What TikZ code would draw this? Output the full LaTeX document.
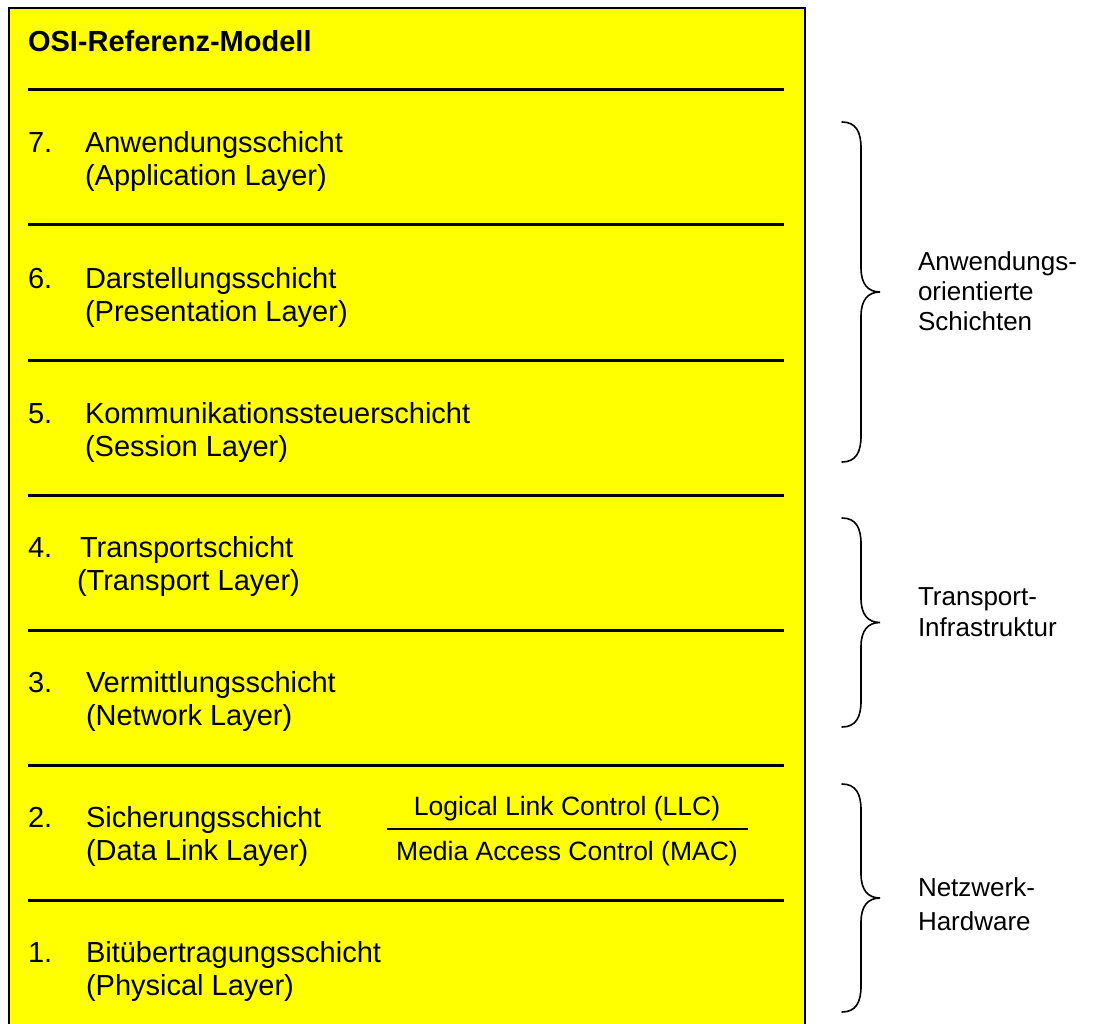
\documentclass[tikz,border=0pt]{standalone}
\usepackage{fontspec}
\setmainfont{Liberation Sans}
\definecolor{layeryellow}{RGB}{255,255,0}
\begin{document}
\begin{tikzpicture}[x=1pt,y=-1pt,
  layertext/.style={anchor=base west,inner sep=0pt,outer sep=0pt,font=\fontsize{29}{33}\selectfont},
  titletext/.style={anchor=base west,inner sep=0pt,outer sep=0pt,font=\fontsize{29}{33}\selectfont\bfseries},
  subtext/.style={anchor=base,inner sep=0pt,outer sep=0pt,font=\fontsize{26.5}{30}\selectfont},
  grouptext/.style={anchor=base west,inner sep=0pt,outer sep=0pt,font=\fontsize{26}{30}\selectfont},
  rule/.style={line width=3pt,black},
  thinrule/.style={line width=1.5pt,black},
  bracepath/.style={line width=1.6pt,black,line cap=round},
  frame/.style={fill=layeryellow,draw=black,line width=2pt}]
\useasboundingbox (0,0) rectangle (1099,1024);

% yellow stack frame
\draw[frame] (9,8) rectangle (805,1040);

% title
\node[titletext] (title) at (28,52) {OSI-Referenz-Modell};

% separators between the layers
\foreach \y/\n in {90/s0,225/s1,360/s2,495/s3,630/s4,765/s5,900/s6}{
  \coordinate (\n l) at (28,\y);
  \coordinate (\n r) at (784,\y);
  \draw[rule] (\n l) -- (\n r);
}

% layers
\node[layertext] (n7) at (28,153) {7.};
\node[layertext] (a7) at (85,153) {Anwendungsschicht};
\node[layertext] (b7) at (85,186) {(Application Layer)};

\node[layertext] (n6) at (28,288) {6.};
\node[layertext] (a6) at (85,288) {Darstellungsschicht};
\node[layertext] (b6) at (85,321) {(Presentation Layer)};

\node[layertext] (n5) at (28,423) {5.};
\node[layertext] (a5) at (85,423) {Kommunikationssteuerschicht};
\node[layertext] (b5) at (85,456) {(Session Layer)};

\node[layertext] (n4) at (28,557) {4.};
\node[layertext] (a4) at (80,557) {Transportschicht};
\node[layertext] (b4) at (77,590) {(Transport Layer)};

\node[layertext] (n3) at (28,692) {3.};
\node[layertext] (a3) at (86,692) {Vermittlungsschicht};
\node[layertext] (b3) at (86,725) {(Network Layer)};

\node[layertext] (n2) at (28,827) {2.};
\node[layertext] (a2) at (86,827) {Sicherungsschicht};
\node[layertext] (b2) at (86,860) {(Data Link Layer)};

\node[layertext] (n1) at (28,962) {1.};
\node[layertext] (a1) at (86,962) {Bitübertragungsschicht};
\node[layertext] (b1) at (86,995) {(Physical Layer)};

% sublayers of the data link layer
\node[subtext] (llc) at (567,815) {Logical Link Control (LLC)};
\node[subtext] (mac) at (567,860) {Media Access Control (MAC)};
\coordinate (subl) at (387,829);
\coordinate (subr) at (748,829);
\draw[thinrule] (subl) -- (subr);

% right-hand curly braces: top y, bottom y
\foreach \t/\b/\n in {122/462/g1,518/727/g2,784/1012/g3}{
  \pgfmathsetmacro{\m}{(\t+\b)/2}
  \coordinate (\n top) at (842,\t);
  \coordinate (\n tip) at (880,\m);
  \coordinate (\n bot) at (842,\b);
  \draw[bracepath] (\n top) .. controls (856,\t) and (861,\t+10) .. (861,\t+26)
     -- (861,\m-24) .. controls (861,\m-8) and (868,\m) .. (\n tip)
     .. controls (868,\m) and (861,\m+8) .. (861,\m+24)
     -- (861,\b-26) .. controls (861,\b-10) and (856,\b) .. (\n bot);
}

% group labels
\node[grouptext] (g1a) at (918,270) {Anwendungs-};
\node[grouptext] (g1b) at (918,300) {orientierte};
\node[grouptext] (g1c) at (918,330) {Schichten};

\node[grouptext] (g2a) at (918,605) {Transport-};
\node[grouptext] (g2b) at (918,636) {Infrastruktur};

\node[grouptext] (g3a) at (918,896) {Netzwerk-};
\node[grouptext] (g3b) at (918,930) {Hardware};
\end{tikzpicture}
\end{document}
